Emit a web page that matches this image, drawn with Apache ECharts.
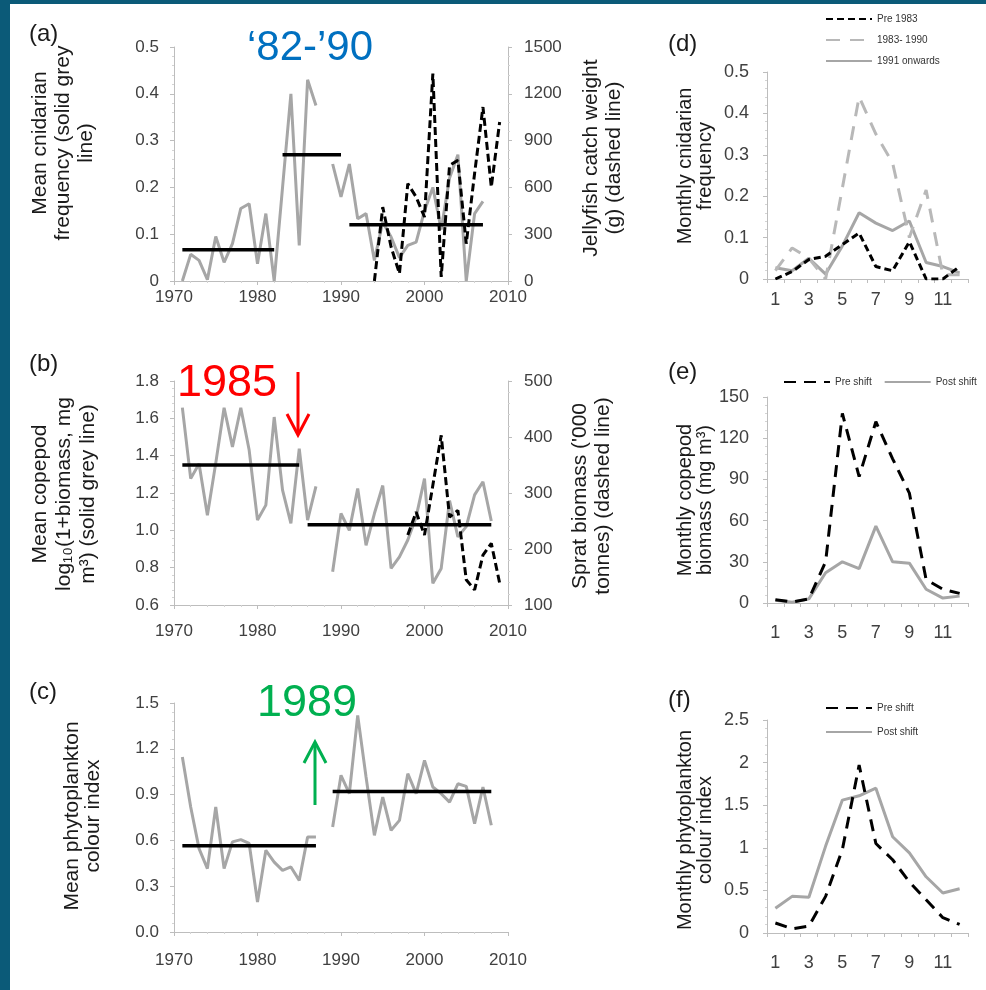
<!DOCTYPE html>
<html lang="en">
<head>
<meta charset="UTF-8">
<title>Cnidarian, copepod and phytoplankton shifts</title>
<script src="https://cdn.jsdelivr.net/npm/echarts@6/dist/echarts.min.js"></script>
<style>
    body { margin: 0; background: #fff; }
    #main { width: 986px; height: 990px; }
</style>
</head>
<body>
<div id="main"></div>
<script>
    // ---- yearly series (first year + one value per year, null = no data) ----
    const cnidStart = 1971;
    const cnidFreq = [0, 0.057, 0.044, 0.003, 0.095, 0.04, 0.08, 0.155, 0.165, 0.037, 0.144, 0,
        0.2, 0.40, 0.076, 0.43, 0.375, null, 0.25, 0.18, 0.25, 0.133, 0.144, 0.044, 0.126, 0.094,
        0.05, 0.076, 0.083, 0.15, 0.2, 0.11, 0.22, 0.27, 0, 0.144, 0.17];
    const jellyStart = 1994;
    const jellyCatch = [0, 474, 218, 47, 624, 538, 410, 1329, 26, 741, 773, 239, 690, 1115, 602, 1019];

    const copeStart = 1971;
    const copeBiomass = [1.657, 1.277, 1.357, 1.081, 1.36, 1.657, 1.447, 1.657, 1.43, 1.055, 1.135,
        1.607, 1.215, 1.037, 1.438, 1.055, 1.236, null, 0.778, 1.09, 1.0, 1.224, 0.92, 1.09, 1.24,
        0.796, 0.858, 0.948, 1.072, 1.277, 0.716, 0.796, 1.16, 0.965, 1.02, 1.19, 1.26, 1.05];
    const spratStart = 1998;
    const spratBiomass = [225, 266, 225, 314, 403, 257, 269, 145, 127, 189, 210, 139];

    const phytoStart = 1971;
    const phytoIndex = [1.146, 0.819, 0.546, 0.415, 0.819, 0.415, 0.59, 0.605, 0.58, 0.196, 0.535,
        0.458, 0.404, 0.426, 0.338, 0.622, 0.622, null, 0.688, 1.026, 0.906, 1.419, 1.015, 0.633,
        0.884, 0.666, 0.731, 1.037, 0.906, 1.124, 0.95, 0.906, 0.851, 0.971, 0.954, 0.71, 0.95, 0.699];

    // regime means: [from year, to year, mean]
    const meansA = [[1971, 1982, 0.067], [1983, 1990, 0.27], [1991, 2007, 0.12]];
    const meansB = [[1971, 1985, 1.35], [1986, 2008, 1.03]];
    const meansC = [[1971, 1987, 0.565], [1989, 2008, 0.92]];

    // ---- monthly series ----
    const months = ['1', '2', '3', '4', '5', '6', '7', '8', '9', '10', '11', '12'];
    const cnidPre1983 = [0, 0.018, 0.047, 0.055, 0.083, 0.111, 0.03, 0.02, 0.09, 0, 0, 0.03];
    const cnid1983to1990 = [0.02, 0.075, 0.05, 0, 0.22, 0.44, 0.35, 0.28, 0.1, 0.215, 0.01, 0.01];
    const cnid1991on = [0.027, 0.02, 0.05, 0.012, 0.08, 0.16, 0.135, 0.117, 0.14, 0.04, 0.03, 0.015];

    const copePre = [2.4, 0.7, 3, 30, 138, 92, 132, 105, 80, 17, 10, 7];
    const copePost = [2, 0.5, 3, 22, 30, 25, 56, 30, 29, 10, 3.6, 5];

    const phytoPre = [0.117, 0.05, 0.08, 0.43, 0.98, 1.97, 1.05, 0.86, 0.6, 0.39, 0.18, 0.1];
    const phytoPost = [0.29, 0.43, 0.42, 1.02, 1.56, 1.61, 1.7, 1.13, 0.94, 0.66, 0.47, 0.52];

    const FONT = '"Liberation Sans", Arial, sans-serif';
    const GREY = '#a6a6a6';
    const AXIS = '#bdbdbd';

    function toPairs(start, vals) {
        return vals.map((v, i) => [start + i, v]);
    }

    function axisBits(fontSize, margin) {
        return {
            axisLine: { show: true, lineStyle: { color: AXIS, width: 1 } },
            axisTick: { show: true, length: 4, lineStyle: { color: AXIS } },
            minorTick: { show: true, splitNumber: 5, length: 2, lineStyle: { color: '#d4d4d4' } },
            splitLine: { show: false },
            axisLabel: { color: '#404040', fontSize: fontSize, fontFamily: FONT, margin: margin }
        };
    }

    function yearAxis(grid, margin) {
        return Object.assign(axisBits(17, margin), {
            type: 'value', gridIndex: grid, min: 1970, max: 2010, interval: 10,
            axisLabel: { color: '#404040', fontSize: 17, fontFamily: FONT, margin: margin,
                formatter: v => String(v) }
        });
    }

    function monthAxis(grid, margin) {
        const a = axisBits(18, margin);
        a.minorTick = { show: false };
        a.axisTick.interval = 0;
        a.axisLabel.interval = 1;
        return Object.assign(a, { type: 'category', gridIndex: grid, data: months, boundaryGap: true });
    }

    function valAxis(grid, min, max, interval, fmt, pos, fontSize, margin) {
        const a = axisBits(fontSize, margin);
        a.axisLabel.formatter = fmt;
        return Object.assign(a, { type: 'value', gridIndex: grid, min: min, max: max,
            interval: interval, position: pos || 'left' });
    }

    const fmt1 = v => v === 0 ? '0' : v.toFixed(1);
    const fmtFixed = v => v.toFixed(1);
    const fmtPlain = v => String(+v.toFixed(2));

    function line(name, xi, yi, data, color, type, width) {
        return {
            name: name, type: 'line', xAxisIndex: xi, yAxisIndex: yi, data: data,
            symbol: 'none', showSymbol: false, connectNulls: false, silent: true,
            lineStyle: { color: color, width: width || 3, type: type || 'solid' },
            itemStyle: { color: color }
        };
    }

    function meanSeries(means, xi, yi) {
        return means.map(m => line('mean', xi, yi, [[m[0], m[2]], [m[1], m[2]]], '#000', 'solid', 3.5));
    }

    function rotText(x, y, text, size, lh) {
        return {
            type: 'text', x: x, y: y, rotation: Math.PI / 2,
            style: { text: text, fill: '#1a1a1a', fontSize: size, fontFamily: FONT,
                align: 'center', verticalAlign: 'middle', lineHeight: lh }
        };
    }

    function label(x, y, text) {
        return { type: 'text', x: x, y: y,
            style: { text: text, fill: '#1a1a1a', fontSize: 24, fontFamily: FONT,
                align: 'left', verticalAlign: 'middle' } };
    }

    const series = [
        line('cnid', 0, 0, toPairs(cnidStart, cnidFreq), GREY),
        ...meanSeries(meansA, 0, 0),
        line('jelly', 0, 1, toPairs(jellyStart, jellyCatch), '#000', [8, 4], 3),

        line('cope', 1, 2, toPairs(copeStart, copeBiomass), GREY),
        ...meanSeries(meansB, 1, 2),
        line('sprat', 1, 3, toPairs(spratStart, spratBiomass), '#000', [8, 4], 3),

        line('phyto', 2, 4, toPairs(phytoStart, phytoIndex), GREY),
        ...meanSeries(meansC, 2, 4),

        line('1991 onwards', 3, 5, cnid1991on, GREY),
        line('1983- 1990', 3, 5, cnid1983to1990, '#b8b8b8', [14, 10], 3),
        line('Pre 1983', 3, 5, cnidPre1983, '#000', [7, 4], 3),

        line('Post shift', 4, 6, copePost, GREY),
        line('Pre shift', 4, 6, copePre, '#000', [12, 8], 3),

        line('Post shift', 5, 7, phytoPost, GREY),
        line('Pre shift', 5, 7, phytoPre, '#000', [12, 8], 3)
    ];

    const legendText = { color: '#333', fontSize: 10, fontFamily: FONT };
    // hide the symbol that the legend puts on each line icon
    const noSymbol = { opacity: 0 };

    const option = {
        backgroundColor: '#fff',
        animation: false,
        grid: [
            { left: 174, top: 47, width: 334, height: 234 },
            { left: 174, top: 381, width: 334, height: 224 },
            { left: 174, top: 703, width: 334, height: 229 },
            { left: 767, top: 72, width: 201, height: 207 },
            { left: 767, top: 397, width: 201, height: 206 },
            { left: 767, top: 720, width: 201, height: 213 }
        ],
        xAxis: [
            yearAxis(0, 8), yearAxis(1, 18), yearAxis(2, 20),
            monthAxis(3, 12), monthAxis(4, 21), monthAxis(5, 21)
        ],
        yAxis: [
            valAxis(0, 0, 0.5, 0.1, fmt1, 'left', 17, 15),
            valAxis(0, 0, 1500, 300, v => String(v), 'right', 17, 16),
            valAxis(1, 0.6, 1.8, 0.2, fmtFixed, 'left', 17, 15),
            valAxis(1, 100, 500, 100, v => String(v), 'right', 17, 16),
            valAxis(2, 0, 1.5, 0.3, fmtFixed, 'left', 17, 15),
            valAxis(3, 0, 0.5, 0.1, fmt1, 'left', 18, 18),
            valAxis(4, 0, 150, 30, v => String(v), 'left', 18, 18),
            valAxis(5, 0, 2.5, 0.5, fmtPlain, 'left', 18, 18)
        ],
        legend: [
            { data: ['Pre 1983', '1983- 1990', '1991 onwards'], orient: 'vertical', left: 820, top: 9,
              itemWidth: 46, itemHeight: 10, itemGap: 11, textStyle: legendText, selectedMode: false,
              itemStyle: noSymbol },
            { data: ['Pre shift', 'Post shift'], orient: 'horizontal', left: 778, top: 372,
              itemWidth: 46, itemHeight: 10, itemGap: 12, textStyle: legendText, selectedMode: false,
              itemStyle: noSymbol },
            { data: ['Pre shift', 'Post shift'], orient: 'vertical', left: 820, top: 698,
              itemWidth: 46, itemHeight: 10, itemGap: 14, textStyle: legendText, selectedMode: false,
              itemStyle: noSymbol }
        ],
        graphic: [
            // slide frame
            { type: 'rect', shape: { x: 0, y: 0, width: 10, height: 990 }, style: { fill: '#0b5a78' } },
            { type: 'rect', shape: { x: 0, y: 0, width: 986, height: 4 }, style: { fill: '#0b5a78' } },

            label(29, 34, '(a)'), label(29, 364, '(b)'), label(29, 692, '(c)'),
            label(668, 44, '(d)'), label(668, 372, '(e)'), label(668, 700, '(f)'),

            rotText(63, 143, 'Mean cnidarian\nfrequency (solid grey\nline)', 21, 23),
            rotText(64, 494, 'Mean copepod\nlog\u2081\u2080(1+biomass, mg\nm\u00b3) (solid grey line)', 21, 24),
            rotText(83, 816, 'Mean phytoplankton\ncolour index', 21, 21),
            rotText(603, 158, 'Jellyfish catch weight\n(g) (dashed line)', 21, 23),
            rotText(592, 496, 'Sprat biomass (\'000\ntonnes) (dashed line)', 21, 23),
            rotText(695, 166, 'Monthly cnidarian\nfrequency', 20, 20),
            rotText(695, 500, 'Monthly copepod\nbiomass (mg m\u00b3)', 20, 20),
            rotText(695, 830, 'Monthly phytoplankton\ncolour index', 20, 20),

            // annotations
            { type: 'text', x: 310, y: 48,
              style: { text: '\u201882-\u201990', fill: '#0070c0', fontSize: 42, fontFamily: FONT,
                align: 'center', verticalAlign: 'middle' } },
            { type: 'text', x: 227, y: 384,
              style: { text: '1985', fill: '#ff0000', fontSize: 45, fontFamily: FONT,
                align: 'center', verticalAlign: 'middle' } },
            { type: 'polyline', shape: { points: [[298, 372], [298, 434]] },
              style: { stroke: '#ff0000', lineWidth: 3, fill: null } },
            { type: 'polyline', shape: { points: [[287, 414], [298, 435], [309, 414]] },
              style: { stroke: '#ff0000', lineWidth: 3, fill: null } },
            { type: 'text', x: 307, y: 704,
              style: { text: '1989', fill: '#00b050', fontSize: 45, fontFamily: FONT,
                align: 'center', verticalAlign: 'middle' } },
            { type: 'polyline', shape: { points: [[315, 805], [315, 743]] },
              style: { stroke: '#00b050', lineWidth: 3, fill: null } },
            { type: 'polyline', shape: { points: [[304, 763], [315, 742], [326, 763]] },
              style: { stroke: '#00b050', lineWidth: 3, fill: null } }
        ],
        series: series
    };

    const chart = echarts.init(document.getElementById('main'), null, { renderer: 'canvas' });
    chart.setOption(option);
</script>
</body>
</html>
